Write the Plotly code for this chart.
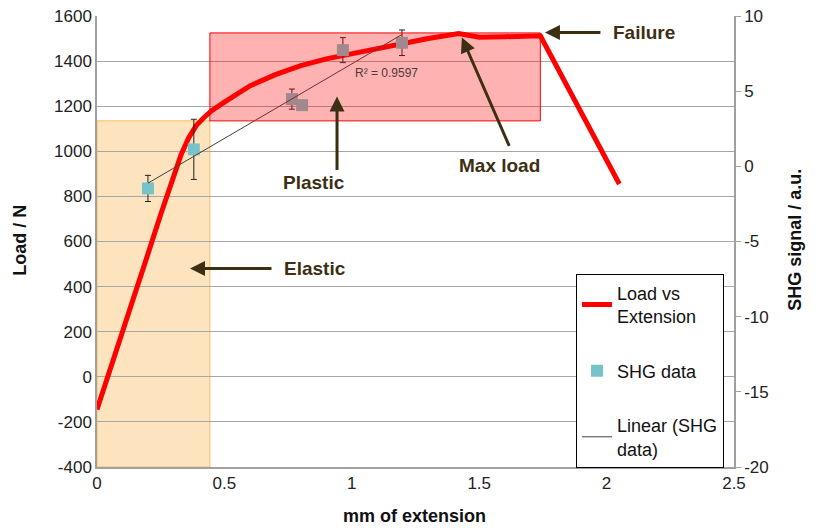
import numpy as np
import plotly.graph_objects as go

# ---- data ----
ext_mm = [0, 0.05, 0.1, 0.15, 0.2, 0.25, 0.3, 0.33, 0.36, 0.39, 0.42, 0.45, 0.5, 0.6, 0.7, 0.8,
          0.9, 1.0, 1.1, 1.2, 1.3, 1.42, 1.5, 1.6, 1.74, 2.05]
load_n = [-145, 25, 190, 370, 545, 720, 890, 985, 1060, 1115, 1150, 1180, 1218, 1290, 1340, 1380,
          1410, 1433, 1456, 1478, 1500, 1522, 1506, 1508, 1512, 855]

shg_x = [0.2, 0.38, 0.765, 0.805, 0.965, 1.197]
shg_y = [-1.47, 1.13, 4.47, 4.07, 7.73, 8.22]
shg_err = [0.87, 2.0, 0.67, 0.3, 0.83, 0.85]

r2_label = "R² = 0.9597"

x_ticks = [0, 0.5, 1, 1.5, 2, 2.5]
x_ticktext = ["0", "0.5", "1", "1.5", "2", "2.5"]
y_ticks = [-400, -200, 0, 200, 400, 600, 800, 1000, 1200, 1400, 1600]
y_ticktext = ["-400", "-200", "0", "200", "400", "600", "800", "1000", "1200", "1400", "1600"]
y2_ticks = [-20, -15, -10, -5, 0, 5, 10]
y2_ticktext = ["-20", "-15", "-10", "-5", "0", "5", "10"]

# linear trendline of SHG data
slope, intercept = np.polyfit(shg_x, shg_y, 1)
trend_x = [min(shg_x), max(shg_x)]
trend_y = [slope * v + intercept for v in trend_x]

FONT = "Liberation Sans, Arial, sans-serif"
BROWN = "#3d3012"

fig = go.Figure()

fig.add_trace(go.Scatter(
    x=ext_mm, y=load_n, mode="lines", name="Load vs<br>Extension",
    line=dict(color="#ff0000", width=5), legendgroup="a", yaxis="y"))

fig.add_trace(go.Scatter(
    x=shg_x, y=shg_y, mode="markers", name="SHG data", yaxis="y2",
    marker=dict(symbol="square", size=12, color="#78c3ca"),
    error_y=dict(type="data", array=shg_err, color="#222222", thickness=1, width=3),
    legendgroup="b"))

fig.add_trace(go.Scatter(
    x=trend_x, y=trend_y, mode="lines", name="Linear (SHG<br>data)", yaxis="y2",
    line=dict(color="#404040", width=1), legendgroup="c"))

# regions
fig.add_shape(type="rect", xref="x", yref="y", x0=0, x1=0.443, y0=-400, y1=1135,
              fillcolor="rgba(252,196,110,0.45)", line=dict(color="#f8bd60", width=1),
              layer="below")
fig.add_shape(type="rect", xref="x", yref="y", x0=0.443, x1=1.74, y0=1135, y1=1525,
              fillcolor="rgba(255,0,0,0.3)", line=dict(color="#ff0000", width=1),
              layer="above")

ann_font = dict(family=FONT, size=19, color=BROWN)
arrows = [
    # head x, head y, ax, ay
    (0.365, 480, 83, 0),
    (1.758, 1527, 57, 0),
    (1.432, 1505, 48, 110),
    (0.942, 1243, 0, 75),
]
for hx, hy, ax, ay in arrows:
    fig.add_annotation(x=hx, y=hy, xref="x", yref="y", ax=ax, ay=ay, text="",
                       showarrow=True, arrowhead=2, arrowsize=1, arrowwidth=3,
                       arrowcolor=BROWN)

labels = [("<b>Elastic</b>", 0.856, 480), ("<b>Failure</b>", 2.147, 1527),
          ("<b>Max load</b>", 1.578, 935), ("<b>Plastic</b>", 0.852, 861)]
for t, lx, ly in labels:
    fig.add_annotation(x=lx, y=ly, xref="x", yref="y", text=t, showarrow=False,
                       font=ann_font, xanchor="center", yanchor="middle")

fig.add_annotation(x=1.138, y=1349, xref="x", yref="y", text=r2_label,
                   showarrow=False, font=dict(family=FONT, size=12, color="#4a3a3c"),
                   xanchor="center", yanchor="middle")

# axis titles
title_font = dict(family=FONT, size=18, color="#111111")
fig.add_annotation(x=-0.1209, y=0.504, xref="paper", yref="paper", text="<b>Load / N</b>",
                   textangle=-90, showarrow=False, font=title_font,
                   xanchor="center", yanchor="middle")
fig.add_annotation(x=1.0958, y=0.504, xref="paper", yref="paper",
                   text="<b>SHG signal / a.u.</b>", textangle=-90, showarrow=False,
                   font=title_font, xanchor="center", yanchor="middle")
fig.add_annotation(x=0.499, y=-0.1096, xref="paper", yref="paper",
                   text="<b>mm of extension</b>", showarrow=False, font=title_font,
                   xanchor="center", yanchor="middle")

fig.update_layout(
    width=815, height=529,
    margin=dict(l=89, r=89, t=8, b=69.5, autoexpand=False),
    paper_bgcolor="white", plot_bgcolor="white",
    font=dict(family=FONT, size=17, color="#222222"),
    showlegend=True,
    legend=dict(x=0.752, y=0.4286, xanchor="left", yanchor="top",
                bgcolor="white", bordercolor="#000000", borderwidth=1,
                font=dict(family=FONT, size=18, color="#111111"),
                traceorder="grouped", tracegroupgap=28, itemwidth=30),
    xaxis=dict(range=[0, 2.5], tickvals=x_ticks, ticktext=x_ticktext, automargin=False,
               showgrid=False, zeroline=False, showline=True, ticklabeloverflow="allow",
               linecolor="#a0a0a0", linewidth=2, ticks=""),
    yaxis=dict(range=[-400, 1600], tickvals=y_ticks, ticktext=y_ticktext, automargin=False,
               showgrid=True, gridcolor="#a6a6a6", gridwidth=1, zeroline=False,
               ticklabeloverflow="allow",
               showline=True, linecolor="#a0a0a0", linewidth=1.5, ticks=""),
    yaxis2=dict(range=[-20, 10], tickvals=y2_ticks, ticktext=y2_ticktext, automargin=False,
                overlaying="y", side="right", showgrid=False, zeroline=False,
                ticklabeloverflow="allow",
                showline=True, linecolor="#a0a0a0", linewidth=1.5,
                ticks="outside", ticklen=5, tickcolor="#a0a0a0"),
)

fig.write_html("out.html")
